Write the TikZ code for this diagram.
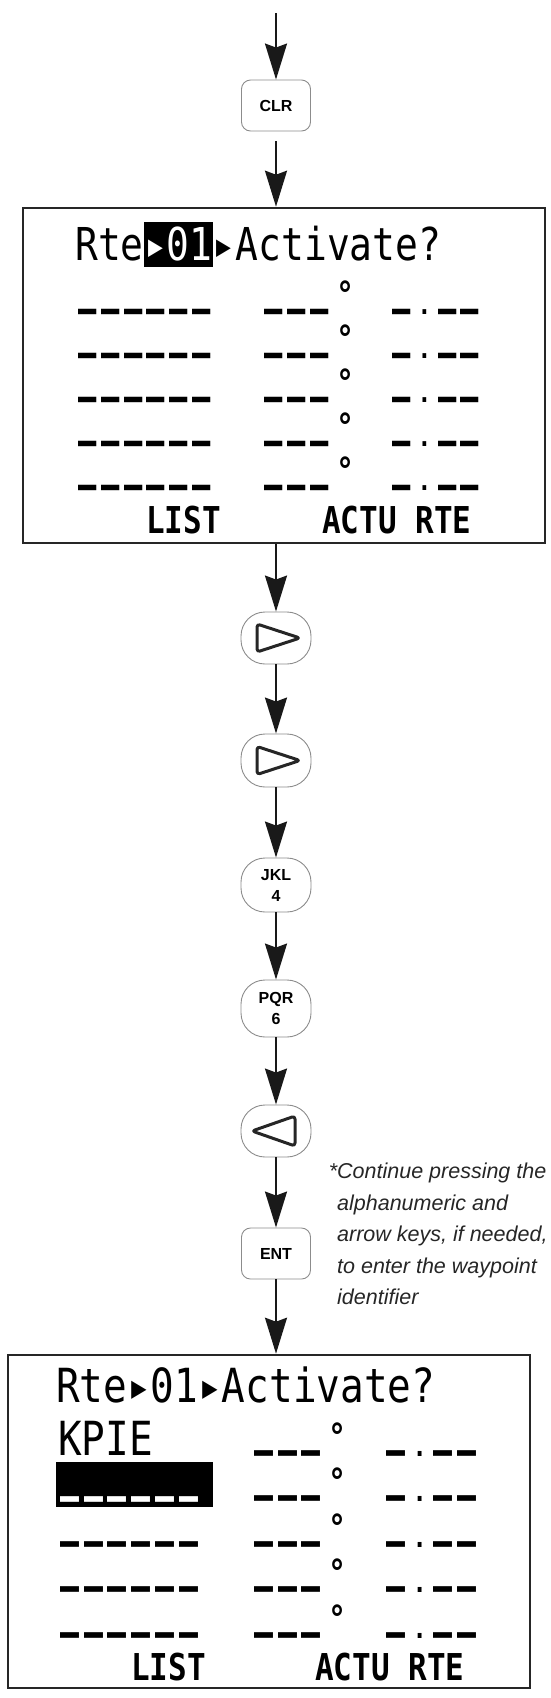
\documentclass[tikz,border=0pt]{standalone}
\usepackage{fontspec}
\usepackage{graphicx}
\usetikzlibrary{arrows.meta}
\setmainfont{Liberation Sans}
\newfontfamily\lcdfam[FakeStretch=0.837]{DejaVu Sans Mono}
\newcommand\lcdA{\lcdfam\fontsize{45.3pt}{45.3pt}\selectfont}
\newcommand\lcdB{\lcdfam\fontsize{47pt}{47pt}\selectfont}
\newcommand\lcdK{\lcdfam\bfseries\fontsize{37pt}{37pt}\selectfont}
\newcommand\lcdD{\lcdfam\bfseries\fontsize{36pt}{36pt}\selectfont}
\newcommand\keyfont{\bfseries\fontsize{16pt}{19pt}\selectfont}
% one LCD cell holding a dash or a point
\newcommand\dA{\makebox[22.8pt]{\scalebox{0.8}[1]{–}}}
\newcommand\pA{\makebox[22.8pt]{\raisebox{10pt}{\scalebox{0.6}{.}}}}
\newcommand\dB{\makebox[23.7pt]{\scalebox{0.8}[1]{–}}}
\newcommand\pB{\makebox[23.7pt]{\raisebox{10pt}{\scalebox{0.6}{.}}}}
\begin{document}
\begin{tikzpicture}[x=1pt,y=-1pt,
  keyr/.style={draw=black!45, line width=0.9pt, rounded corners=9pt, minimum width=69pt, minimum height=51pt, inner sep=0pt, font=\keyfont},
  keye/.style={draw=black!45, line width=0.9pt, rounded corners=24pt, minimum width=70pt, minimum height=52pt, inner sep=0pt, font=\keyfont, align=center},
  screen/.style={draw=black!85, line width=2.6pt, minimum width=522pt, inner sep=0pt},
  flow/.style={-{Stealth[length=36pt,width=22pt,inset=4pt]}, line width=2.2pt, draw=black!90},
  tri/.style={draw=black!85, line width=3pt, rounded corners=3pt, line join=round},
  lcda/.style={inner sep=0pt, anchor=base west, font=\lcdA},
  lcdb/.style={inner sep=0pt, anchor=base west, font=\lcdB},
  dsha/.style={inner sep=0pt, anchor=base west, font=\lcdA\bfseries, text height=16pt, text depth=0pt},
  dshb/.style={inner sep=0pt, anchor=base west, font=\lcdB\bfseries, text height=16pt, text depth=0pt},
  lcdk/.style={inner sep=0pt, anchor=base west, font=\lcdK},
  deg/.style={inner sep=0pt, anchor=base, font=\lcdD, text height=26pt, text depth=0pt},
  note/.style={inner sep=0pt, align=left, anchor=north west, font=\itshape\fontsize{21.5pt}{31.5pt}\selectfont, text=black!85}
]
\useasboundingbox (0,0) rectangle (551,1698);

% key and screen nodes
\coordinate (start) at (276,13);
\node[keyr] (clr) at (276,105.5) {CLR};
\node[screen, minimum height=335pt] (s1) at (284,375.5) {};
\node[keye] (r1) at (276,638) {};
\node[keye, minimum height=53pt] (r2) at (276,760.5) {};
\node[keye, minimum height=54pt] (jkl) at (276,885) {JKL\\[2pt]4};
\node[keye, minimum height=57pt] (pqr) at (276,1008.5) {PQR\\[2pt]6};
\node[keye] (lft) at (276,1131) {};
\node[keyr] (ent) at (276,1253.5) {ENT};
\node[screen, minimum height=333pt] (s2) at (269,1521.5) {};

% arrow glyphs in keys
\draw[tri] ([shift={(-19,-14)}]r1.center) -- ++(0,28) -- ++(43,-14) -- cycle;
\draw[tri] ([shift={(-19,-14)}]r2.center) -- ++(0,28) -- ++(43,-14) -- cycle;
\draw[tri] ([shift={(19,-15)}]lft.center) -- ++(0,30) -- ++(-43,-15) -- cycle;

% connectors
\draw[flow] (start) -- (clr.north);
\draw[flow, shorten <=10pt] (clr.south) -- (clr.south |- s1.north);
\draw[flow] (r1.north |- s1.south) -- (r1.north);
\draw[flow] (r1.south) -- (r2.north);
\draw[flow] (r2.south) -- (jkl.north);
\draw[flow] (jkl.south) -- (pqr.north);
\draw[flow] (pqr.south) -- (lft.north);
\draw[flow] (lft.south) -- (ent.north);
\draw[flow] (ent.south) -- (ent.south |- s2.north);

% screen 1 contents
\node[lcda] (t1a) at (75,260) {Rte};
\node[lcda, fill=black, text=white, text height=38pt, text depth=7pt] (t1b) at (t1a.base east) {▸01};
\node[lcda] (t1c) at (t1b.base east) {▸Activate?};
\foreach \y [count=\i] in {324,368,412,456,500} {
  \node[dsha] (s1l\i) at (76,\y) {\dA\dA\dA\dA\dA\dA};
  \node[dsha] (s1m\i) at (262,\y) {\dA\dA\dA};
  \node[dsha] (s1r\i) at (390,\y) {\dA\pA\dA\dA};
  \node[deg] (s1d\i) at (346,{\y-17}) {°};
}
\node[lcdk] (s1list) at (146,533) {LIST};
\node[lcdk] (s1actu) at (322,533) {ACTU RTE};

% screen 2 contents
\node[lcdb] (t2) at (56,1402) {Rte▸01▸Activate?};
\node[lcdb] (kpie) at (58,1455) {KPIE};
\node[fill=black, minimum width=157pt, minimum height=45pt, inner sep=0pt, anchor=north west] (hl) at (56,1462) {};
\node[dshb, text=white] (hld) at (58,1512) {\dB\dB\dB\dB\dB\dB};
\foreach \y [count=\i] in {1466,1511,1557,1602,1648} {
  \node[dshb] (s2m\i) at (252,\y) {\dB\dB\dB};
  \node[dshb] (s2r\i) at (384,\y) {\dB\pB\dB\dB};
  \node[deg] (s2d\i) at (338,{\y-17}) {°};
}
\foreach \y [count=\i] in {1557,1602,1648} {
  \node[dshb] (s2l\i) at (58,\y) {\dB\dB\dB\dB\dB\dB};
}
\node[lcdk] (s2list) at (131,1680) {LIST};
\node[lcdk] (s2actu) at (315,1680) {ACTU RTE};

% note
\node[note] (nt) at (337,1163) {\llap{*}Continue pressing the\\alphanumeric and\\arrow keys, if needed,\\to enter the waypoint\\identifier};
\end{tikzpicture}
\end{document}
